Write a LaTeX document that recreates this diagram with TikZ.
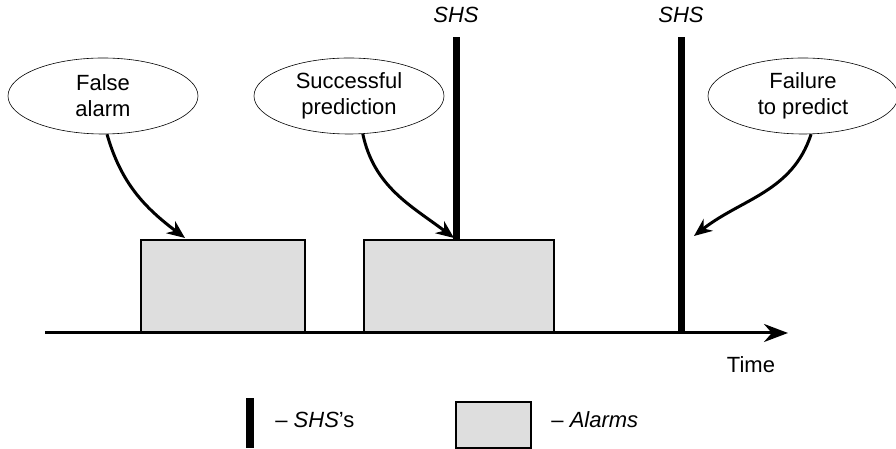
\documentclass[tikz,border=0pt]{standalone}
\usepackage{fontspec}
\setmainfont{Liberation Sans}
\usetikzlibrary{arrows.meta,positioning,shapes.geometric}
\tikzset{
    event/.style={ellipse, draw, line width=0.3pt, minimum width=95pt, minimum height=38pt, inner sep=0pt, align=center, font=\fontsize{11}{13}\selectfont},
    alarm/.style={draw, fill=black!13, line width=0.8pt, inner sep=0pt},
    shs/.style={line width=3.5pt},
    pointer/.style={-{Stealth[length=9pt,width=7.5pt]}, line width=1.5pt},
    lbl/.style={font=\fontsize{11}{13}\selectfont, inner sep=0pt}
}
\begin{document}
\begin{tikzpicture}[x=0.5pt, y=0.5pt]
  \useasboundingbox (0,0) rectangle (896,449);
  % events
  \node[event] (fa) at (103,353) {False\\alarm};
  \node[event] (sp) at (349,353) {Successful\\prediction};
  \node[event] (fp) at (803,353) {Failure\\to predict};

  % alarms
  \node[alarm, minimum width=82pt, minimum height=46.5pt] (a1) at (223,162.5) {};
  \node[alarm, minimum width=95pt, minimum height=46.5pt] (a2) at (459,162.5) {};

  % time axis
  \coordinate (t0) at (45,116);
  \coordinate (t1) at (788,116);
  \draw[line width=1.5pt, -{Stealth[length=12pt,width=9pt]}] (t0) -- (t1);
  \node[lbl] (time) at (751,84) {Time};

  % SHS
  \coordinate (s1) at (456,412);
  \coordinate (s2) at (681,412);
  \draw[shs] (456,209) -- (s1);
  \draw[shs] (681,116) -- (s2);
  \node[lbl, above=7pt of s1] (l1) {\itshape SHS};
  \node[lbl, above=7pt of s2] (l2) {\itshape SHS};

  % pointers
  \coordinate (p1) at (185,211);
  \coordinate (p2) at (454,211);
  \coordinate (p3) at (694,213);
  \draw[pointer] (fa.276) to[out=-74, in=143] (p1);
  \draw[pointer] (sp.290) to[out=-78, in=143] (p2);
  \draw[pointer] (fp.282) to[out=-108, in=38] (p3);

  % legend
  \coordinate (k1) at (250,1);
  \coordinate (k2) at (250,51);
  \draw[line width=4pt] (k1) -- (k2);
  \node[lbl, anchor=west] (kl1) at (275,29) {-- \textit{SHS}'s};
  \node[alarm, minimum width=37.5pt, minimum height=23pt] (kb) at (493.5,24) {};
  \node[lbl, anchor=west] (kl2) at (551,29) {-- \textit{Alarms}};
\end{tikzpicture}
\end{document}
